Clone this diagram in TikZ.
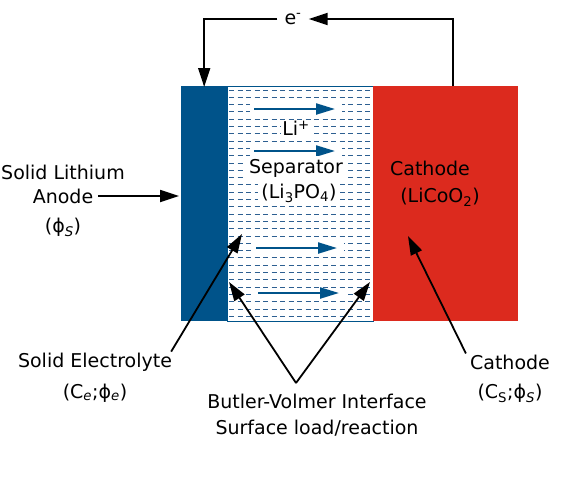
\documentclass[tikz,border=0pt]{standalone}
\usepackage{fontspec}
\setmainfont{DejaVu Sans}
\usetikzlibrary{positioning,arrows.meta}
\definecolor{anodeblue}{RGB}{0,83,138}
\definecolor{cathred}{RGB}{220,42,30}
\definecolor{dashblue}{RGB}{45,95,145}

\begin{document}
\begin{tikzpicture}[x=1pt,y=-1pt,font=\fontsize{19}{23}\selectfont,
	arrow/.style={draw=black, line width=1.8pt, -{Triangle[length=19pt,width=12pt]}},
	flow/.style={draw=anodeblue, line width=2.2pt, -{Triangle[length=19pt,width=11pt]}},
	gap/.style={draw=white, line width=10pt},
	slab/.style={anchor=north west, inner sep=0, minimum height=235},
	txt/.style={inner sep=1pt, align=center}]
	\useasboundingbox (0,0) rectangle (580,483);
	% cell
	\node[slab, fill=anodeblue, minimum width=46] (anode) at (181,86) {};
	\node[slab, fill=white, draw=anodeblue, line width=0.8pt, minimum width=146] (sep) at (227,86) {};
	\node[slab, fill=cathred, minimum width=145] (cathode) at (373,86) {};
	\foreach \y in {90,97.3,...,318}
		\draw[dashblue, line width=1pt, dash pattern=on 5pt off 3.5pt] (229,\y) -- (371,\y);
	% Li+ flow
	\foreach \y/\a in {109/254,151/254,248/256,293/258}{
		\draw[gap] (\a-4,\y) -- (\a+88,\y);
		\draw[flow] (\a,\y) -- (\a+81,\y);
	}
	\node[txt, fill=white] (liion) at (296,128) {Li\textsuperscript{+}};
	\node[txt, fill=white, inner sep=3pt] (septxt) at (296,168) {Separator};
	\node[txt, fill=white, inner sep=3pt] (lipo) at (299,193) {(Li\textsubscript{3}PO\textsubscript{4})};
	\node[txt] (cattop) at (430,168) {Cathode};
	\node[txt] (licoo) at (440,197) {(LiCoO\textsubscript{2})};
	% external circuit
	\node[txt] (elec) at (293,19) {e\textsuperscript{-}};
	\draw[arrow] ([xshift=80]cathode.north west) |- ([xshift=6]elec.east);
	\draw[arrow] ([xshift=-6]elec.west) -| ([yshift=-1]anode.north);
	% anode label
	\node[txt] (lithium) at (63,172) {Solid Lithium};
	\node[txt] (anodetxt) at (63,196) {Anode};
	\node[txt] (phis) at (63,227) {(ϕ\textsubscript{\textit{S}})};
	\draw[arrow] ([xshift=4]anodetxt.east) -- ([xshift=-2]anodetxt.east -| anode.west);
	% lower labels
	\node[txt] (electxt) at (95,362) {Solid Electrolyte};
	\node[txt] (cephie) at (95,393) {(C\textsubscript{\textit{e}};ϕ\textsubscript{\textit{e}})};
	\node[txt] (bv) at (317,401) {Butler-Volmer Interface};
	\node[txt] (bvsurf) at (317,428) {Surface load/reaction};
	\node[txt] (catbot) at (510,362) {Cathode};
	\node[txt] (csphis) at (510,393) {(C\textsubscript{S};ϕ\textsubscript{\textit{S}})};
	\coordinate (elint) at (242,234);
	\coordinate (bvtip) at (296,383);
	\coordinate (ifleft) at (229,282);
	\coordinate (ifright) at (370,282);
	\coordinate (catint) at (408,236);
	\draw[arrow] ([xshift=-2]electxt.north east) -- (elint);
	\draw[arrow] (bvtip) -- (ifleft);
	\draw[arrow] (bvtip) -- (ifright);
	\draw[arrow] ([xshift=-3]catbot.north west) -- (catint);
\end{tikzpicture}
\end{document}
